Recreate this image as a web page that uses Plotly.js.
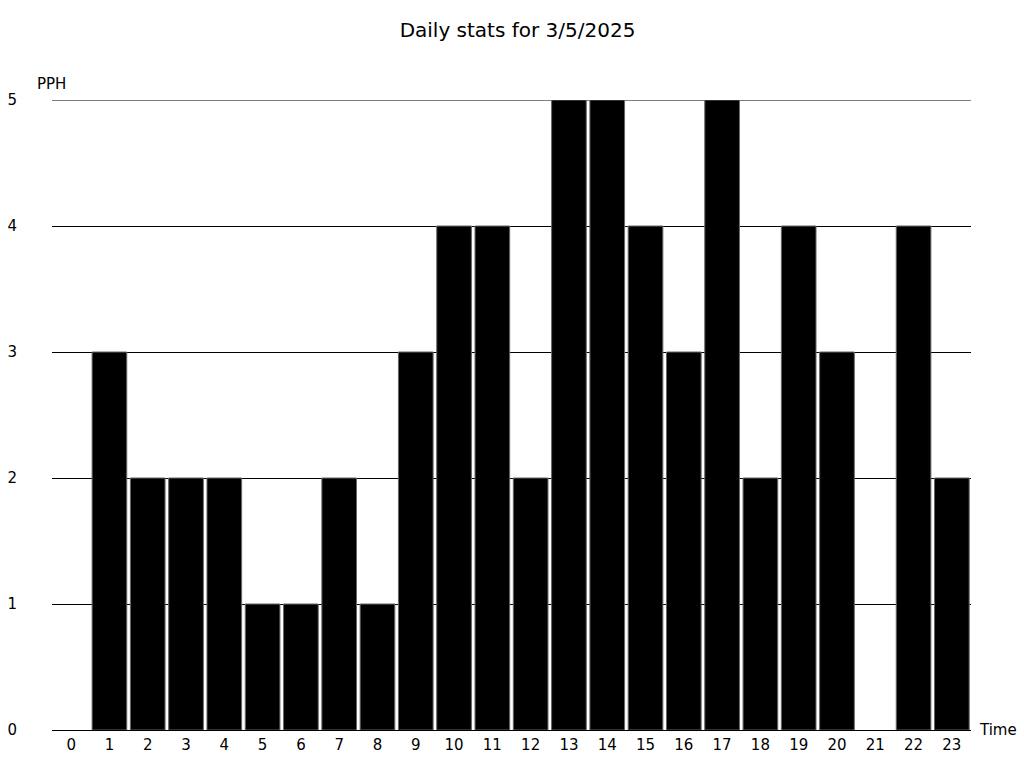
<!DOCTYPE html>
<html>
<head>
<meta charset="utf-8">
<script src="https://cdn.plot.ly/plotly-3.0.1.min.js"></script>
<style>html,body{margin:0;padding:0;background:#fff;}#chart{width:1024px;height:768px;}</style>
</head>
<body>
<div id="chart"></div>
<script>
const hours = ['0','1','2','3','4','5','6','7','8','9','10','11','12','13','14','15','16','17','18','19','20','21','22','23'];
const pph = [0,3,2,2,2,1,1,2,1,3,4,4,2,5,5,4,3,5,2,4,3,0,4,2];
const yTicks = [0,1,2,3,4,5];
const titleText = 'Daily stats for 3/5/2025';
const yLabel = 'PPH';
const xLabel = 'Time';

const font = 'DejaVu Sans, sans-serif';
const yMax = yTicks[yTicks.length - 1];
Plotly.newPlot('chart', [{
  type: 'bar',
  x: hours,
  y: pph,
  marker: {color: '#000', line: {color: '#666', width: pph.map(v => v > 0 ? 1 : 0)}},
  hoverinfo: 'skip'
}], {
  width: 1024, height: 768,
  paper_bgcolor: '#fff', plot_bgcolor: '#fff',
  margin: {l: 52, r: 53, t: 100, b: 38},
  bargap: 0.095,
  font: {family: font, size: 15, color: '#000'},
  title: {text: titleText, font: {family: font, size: 20, color: '#000'}, x: 0.5054, xanchor: 'center', y: 0.961, yanchor: 'middle'},
  xaxis: {type: 'category', range: [-0.5, 23.5], showgrid: false, zeroline: false, showline: false, ticks: '', ticklabelstandoff: 4, tickfont: {size: 15}, fixedrange: true},
  yaxis: {range: [0, yMax], tickvals: yTicks, showgrid: true, gridcolor: '#000', gridwidth: 1, zeroline: true, zerolinecolor: '#000', zerolinewidth: 1, showline: false, ticks: '', ticklabelstandoff: 34, tickfont: {size: 15}, fixedrange: true},
  shapes: [
    {type: 'line', layer: 'below', xref: 'paper', x0: 0, x1: 1, yref: 'y', y0: yMax, y1: yMax, line: {color: '#000', width: 1}}
  ],
  annotations: [
    {text: yLabel, xref: 'paper', yref: 'paper', x: -0.0005, y: 1.0254, xanchor: 'center', yanchor: 'middle', showarrow: false, font: {size: 15, color: '#000'}},
    {text: xLabel, xref: 'paper', yref: 'paper', x: 1.0065, y: 0, xanchor: 'left', yanchor: 'middle', showarrow: false, font: {size: 15, color: '#000'}}
  ],
  showlegend: false
}, {displayModeBar: false, staticPlot: true});
</script>
</body>
</html>
